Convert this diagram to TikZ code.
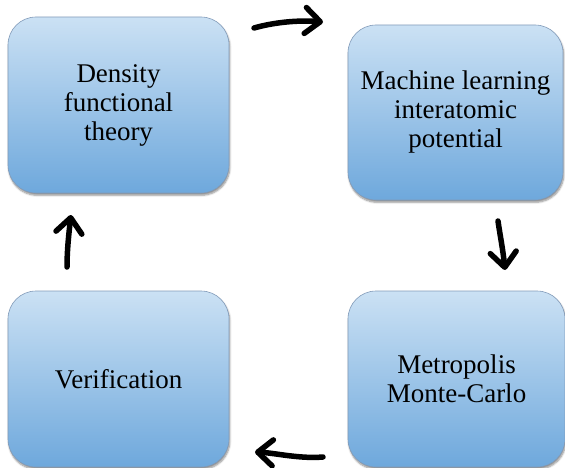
\documentclass[tikz,border=0pt]{standalone}
\usepackage{fontspec}
\setmainfont{Liberation Serif}
\usetikzlibrary{arrows.meta,shadows.blur}
\definecolor{boxtop}{RGB}{203,225,244}
\definecolor{boxbot}{RGB}{110,168,220}
\definecolor{boxline}{RGB}{130,155,185}
\tikzset{
  stage/.style={draw=boxline, line width=0.6pt, rounded corners=28pt,
    top color=boxtop, bottom color=boxbot, inner sep=0pt,
    align=center, font=\fontsize{27pt}{29pt}\selectfont,
    blur shadow={shadow xshift=0.8pt, shadow yshift=-2.2pt,
      shadow blur steps=6, shadow opacity=45}},
  flow/.style={line width=5.5pt, line cap=round, line join=round,
    -{Straight Barb[length=15pt,width=26pt,line cap=round,line join=round]}}
}
\begin{document}
\begin{tikzpicture}[x=1pt,y=-1pt]
  \useasboundingbox (0,0) rectangle (565,468);

  % the four stages of the loop
  \node[stage, minimum width=221pt, minimum height=176pt] (dft) at (118.5,105)
    {Density\\functional\\theory};
  \node[stage, minimum width=215pt, minimum height=175pt] (mlip) at (455.5,112.5)
    {Machine learning\\interatomic\\potential};
  \node[stage, minimum width=217pt, minimum height=176pt] (mmc) at (456.5,379)
    {Metropolis\\Monte-Carlo};
  \node[stage, minimum width=221pt, minimum height=176pt] (ver) at (118.5,379)
    {Verification};

  % free ends of the hand-drawn arrows between the stages
  \coordinate (a1s) at (254,28);
  \coordinate (a1e) at (323,22);
  \coordinate (a2s) at (498,221);
  \coordinate (a2e) at (505,270);
  \coordinate (a3s) at (323,457);
  \coordinate (a3e) at (255,452);
  \coordinate (a4s) at (67,267);
  \coordinate (a4e) at (71,215);

  \draw[flow] (a1s) .. controls (275,22) and (300,20) .. (a1e);
  \draw[flow] (a2s) .. controls (500,235) and (503,250) .. (a2e);
  \draw[flow] (a3s) .. controls (300,459) and (275,453) .. (a3e);
  \draw[flow] (a4s) .. controls (67,250) and (69,232) .. (a4e);
\end{tikzpicture}
\end{document}
